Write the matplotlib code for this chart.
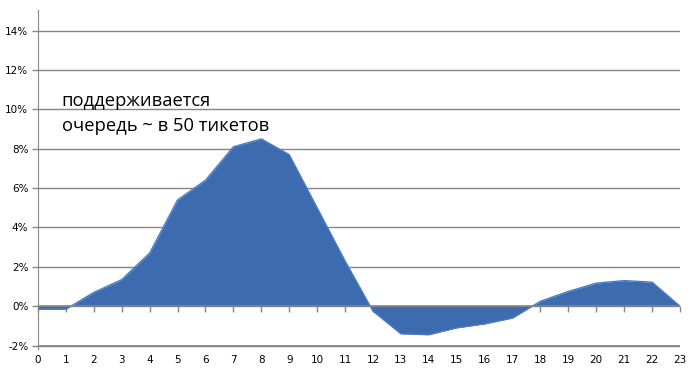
import numpy as np
import matplotlib.pyplot as plt

# hourly share, percent
hours = list(range(24))
share = [-0.15, -0.15, 0.7, 1.35, 2.7, 5.4, 6.4, 8.1, 8.5, 7.7,
         5.0, 2.3, -0.25, -1.4, -1.45, -1.1, -0.9, -0.6, 0.25, 0.75,
         1.17, 1.3, 1.22, 0.0]
yticks = list(range(-2, 15, 2))
note = "поддерживается\nочередь ~ в 50 тикетов"

ymin, ymax = -2.15, 15.05
grid_col = '#868686'

fig = plt.figure(figsize=(6.95, 3.75), dpi=100)
ax = fig.add_axes([38/695, 26.5/375, 642/695, 338.5/375])

ax.fill_between(hours, share, 0, color='#3d6baf', lw=0, zorder=2)
ax.plot(hours, share, color='#4a7cc4', lw=1, zorder=3)

ax.set_xlim(0, 23)
ax.set_ylim(ymin, ymax)

ax.set_yticks(yticks)
ax.set_yticklabels(['%d%%' % v for v in yticks])
ax.yaxis.grid(True, color=grid_col, lw=1)
ax.set_axisbelow(True)
# bottom line of the plot area at -2%
ax.axhline(yticks[0], color=grid_col, lw=1.3, zorder=1)

ax.set_xticks(hours)
ax.set_xticklabels([str(h) for h in hours])
ax.tick_params(axis='x', length=0, pad=5, labelsize=7.5, colors='black')
ax.tick_params(axis='y', length=4, width=1, color=grid_col, labelsize=7.5, pad=3)

for s in ['top', 'right', 'bottom']:
    ax.spines[s].set_visible(False)
ax.spines['left'].set_color(grid_col)

# zero line with small tick marks
ax.axhline(0, color=grid_col, lw=1.2, zorder=4)
zero_loc = (0 - ymin) / (ymax - ymin)
sec = ax.secondary_xaxis(zero_loc)
sec.set_xticks(hours)
sec.set_xticklabels([])
sec.tick_params(length=4, width=1, color=grid_col, direction='out')
sec.spines['bottom'].set_visible(False)

ax.text(0.037, 0.757, note, transform=ax.transAxes, fontsize=13.2,
        family='Open Sans', linespacing=1.5, va='top', ha='left')

fig.savefig('out.png', dpi=100)
